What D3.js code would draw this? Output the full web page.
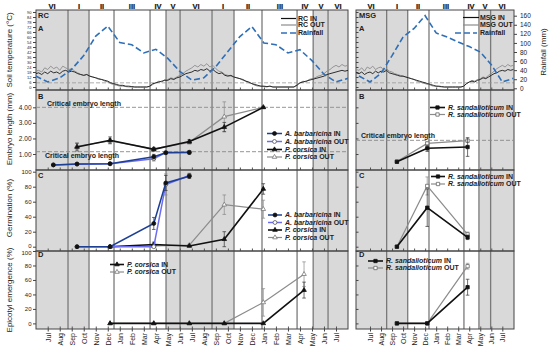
<!DOCTYPE html>
<html>
<head>
<meta charset="utf-8">
<script src="https://cdn.jsdelivr.net/npm/d3@7"></script>
<style>
  body { margin: 0; background: #fff; }
  svg { font-family: "Liberation Sans", Arial, sans-serif; }
</style>
</head>
<body>
<div id="chart"></div>
<script>
(function(){
    var WIDTH = 550, HEIGHT = 351;
    var TOP = 10, BOTTOM = 329;

    // ---- data ---------------------------------------------------------
    var monthLabelsLeft = ["Jul","Aug","Sep","Oct","Nov","Dec","Jan","Feb","Mar","Apr","May","Jun",
                           "Jul","Aug","Sep","Oct","Nov","Dec","Jan","Feb","Mar","Apr","May","Jun","Jul"];
    var monthLabelsRight = ["Jul","Aug","Sep","Oct","Nov","Dec","Jan","Feb","Mar","Apr","May","Jun","Jul"];

    var seasonsLeft = ["VI","I","II","III","IV","V","VI","I","II","III","IV","V","VI"];
    var seasonBreaksLeft = [1.69, 3.44, 5.52, 8.52, 9.85, 11.02, 13.68, 15.51, 17.84, 20.76, 22.1, 23.34];
    var seasonsRight = ["VI","I","II","III","IV","V","VI"];
    var seasonBreaksRight = [1.51, 3.42, 5.35, 8.52, 9.88, 10.94];
    var shadedSeasons = ["VI","I","V"];

    // monthly rainfall (mm), first value = June before the first July tick
    var rainLeft  = [27,14,23,42,72,115,137,101,96,78,86,66,37,18,23,48,81,114,136,100,96,78,85,61,31,14,22];
    var rainRight = [27,14,33,72,113,132,160,122,113,102,92,80,52,14,22];

    // soil temperature (°C), quarter-month readings
    var tempLeftStart = -1;
    var tempInLeft = [16,17,15,18, 16,19,17,18, 16,19,20,18, 19,18,16,15, 14,15,13,12, 11,10,9,8,
                      7,5,4,3, 2,2,1,1, 0.5,0,0,0, 0,0,1,4, 5,6,7,8, 8,10,9,11, 12,14,16,17,
                      18,20,19,21, 20,22,19,21, 18,16,17,14, 13,14,12,11, 10,9,7,6, 4,3,2,1,
                      1,0.5,1,0, 0,0,0,0, 0,0,0,2, 5,6,7,8, 9,10,11,12, 13,15,16,17, 18,19,20,19, 20];
    var tempOutLeft = [19,20,18,23, 21,25,22,24, 20,25,23,21, 22,19,17,15, 14,15,13,12, 11,9,9,7,
                       6,4,3,2, 1,1,0.5,0, 0,0,0,0, 0,0,0.5,3, 5,7,6,9, 9,11,10,12, 14,16,19,21,
                       23,26,24,27, 25,28,24,26, 22,19,18,15, 14,13,12,11, 10,8,7,5, 4,2,1,1,
                       0.5,0,1,0, 0,0,0,0, 0,0,0,3, 5,7,6,9, 10,11,13,14, 16,19,21,24, 26,24,27,25, 26];
    var tempRightStart = -1.25;
    var tempInRight = [17, 16,18,15,17, 18,16,19,17, 19,18,20,17, 16,15,14,13, 13,12,11,10, 9,8,7,6,
                       5,4,3,2, 1,1,0.5,0, 0,0,0,0, 0,0,1,4, 6,7,6,8, 9,11,10,12, 14,16,17,19, 20,19,21,20, 21];
    var tempOutRight = [21, 20,23,19,24, 22,25,21,23, 24,20,22,19, 18,16,15,14, 13,12,11,10, 9,7,6,5,
                        4,3,2,1, 1,0.5,0,0, 0,0,0,0, 0,0,1,4, 6,8,7,9, 10,12,11,14, 16,19,22,24, 26,24,27,25, 26];
    var tempThreshold = 5;
    var tempTicks = d3.range(0, 91, 6);

    // A. barbaricina (RC)
    var abMonthsB = [0.47, 2.44, 5.19, 8.83, 9.83, 11.79];
    var abLenIn   = [0.30, 0.36, 0.38, 0.83, 1.08, 1.10];
    var abLenOut  = [0.30, 0.35, 0.37, 0.70, 1.10, 1.12];
    var abLenErr  = [0.03, 0.03, 0.03, 0.15, 0.06, 0.10];
    var abMonthsC = [2.44, 5.19, 8.83, 9.83, 11.79];
    var abGermIn  = [0, 0, 31, 85, 94];
    var abGermOut = [0, 0, 0, 83, 95];
    var abGermErrIn  = [0, 0, 8, 10, 3];
    var abGermErrOut = [0, 0, 0, 14, 3];

    // P. corsica (RC)
    var pcMonthsB = [2.44, 5.19, 8.83, 11.79, 14.70, 17.95];
    var pcLenIn   = [1.45, 1.88, 1.30, 1.80, 2.73, 4.00];
    var pcLenOut  = [1.50, 1.85, 1.33, 1.75, 3.40, 4.00];
    var pcLenErrIn  = [0.25, 0.22, 0.12, 0.12, 0.30, 0.05];
    var pcLenErrOut = [0.20, 0.15, 0.10, 0.10, 0.95, 0.05];
    var pcMonthsC = [5.19, 8.83, 11.79, 14.70, 17.95];
    var pcGermIn  = [0, 3, 1, 10, 77];
    var pcGermOut = [0, 1, 2, 56, 50];
    var pcGermErrIn  = [0, 3, 1, 10, 7];
    var pcGermErrOut = [0, 1, 1, 13, 12];
    var pcMonthsD = [5.19, 8.83, 11.79, 14.70, 17.95, 21.34];
    var pcEpiIn   = [0, 0, 0, 0, 0, 46];
    var pcEpiOut  = [0, 0, 0, 0, 29, 68];
    var pcEpiErrIn  = [0, 0, 0, 0, 0, 11];
    var pcEpiErrOut = [0, 0, 0, 0, 19, 17];

    // R. sandalioticum (MSG)
    var rsMonths  = [2.44, 5.19, 8.85];
    var rsLenIn   = [0.50, 1.37, 1.45];
    var rsLenOut  = [0.52, 1.68, 1.86];
    var rsLenErrIn  = [0.03, 0.20, 0.60];
    var rsLenErrOut = [0.03, 0.10, 0.10];
    var rsGermIn  = [0, 52, 12.5];
    var rsGermOut = [0, 81, 16.5];
    var rsGermErrIn  = [0, 25, 3];
    var rsGermErrOut = [0, 12, 3];
    var rsEpiIn   = [0, 0, 50];
    var rsEpiOut  = [0, 0, 79];
    var rsEpiErrIn  = [0, 0, 11];
    var rsEpiErrOut = [0, 0, 4];

    var criticalLeft = [4.0, 1.15];
    var criticalRight = [1.88];

    // ---- scales / layout ----------------------------------------------
    var ROWS = [
        {key:'A', y0:10,  y1:90},
        {key:'B', y0:90,  y1:170},
        {key:'C', y0:170, y1:251},
        {key:'D', y0:251, y1:329}
    ];

    var yTemp = d3.scaleLinear().domain([0, 90]).range([87, 12]);
    var yRain = d3.scaleLinear().domain([0, 160]).range([88.3, 15.7]);
    var yLen  = d3.scaleLinear().domain([0, 5]).range([169.6, 91.75]);
    var yGerm = d3.scaleLinear().domain([0, 100]).range([246.7, 171.7]);
    var yEpi  = d3.scaleLinear().domain([0, 100]).range([323.4, 251]);

    var panelL = {id:'L', x0:36, x1:348, domain:[-0.975, 25.0], seasons:seasonsLeft,
                  breaks:seasonBreaksLeft, months:monthLabelsLeft, showLabels:true};
    var panelR = {id:'R', x0:356, x1:514, domain:[-1.27, 13.06], seasons:seasonsRight,
                  breaks:seasonBreaksRight, months:monthLabelsRight, showLabels:false};
    [panelL, panelR].forEach(function(p){
        p.x = d3.scaleLinear().domain(p.domain).range([p.x0, p.x1]);
    });

    var ST = {
        abIn:  {color:'#1d3f94', width:1.5, sym:d3.symbolCircle,   size:12, fill:'#111',  stroke:'#111'},
        abOut: {color:'#6c6cf2', width:1.5, sym:d3.symbolCircle,   size:12, fill:'#fff',  stroke:'#555'},
        pcIn:  {color:'#111',    width:1.6, sym:d3.symbolTriangle, size:9,  fill:'#111',  stroke:'#111'},
        pcOut: {color:'#8c8c8c', width:1.2, sym:d3.symbolTriangle, size:9,  fill:'#fff',  stroke:'#777'},
        rsIn:  {color:'#111',    width:1.6, sym:d3.symbolSquare,   size:11, fill:'#111',  stroke:'#111'},
        rsOut: {color:'#8c8c8c', width:1.2, sym:d3.symbolSquare,   size:11, fill:'#fff',  stroke:'#666'}
    };

    var svg = d3.select('#chart').append('svg')
        .attr('width', WIDTH)
        .attr('height', HEIGHT);

    // ---- panels -------------------------------------------------------
    [panelL, panelR].forEach(drawFrame);

    // temperature + rainfall
    drawClimate(panelL, tempLeftStart, tempInLeft, tempOutLeft, rainLeft);
    drawClimate(panelR, tempRightStart, tempInRight, tempOutRight, rainRight);

    // critical embryo length lines
    criticalLeft.forEach(function(v){ dashed(panelL, yLen(v)); });
    criticalRight.forEach(function(v){ dashed(panelR, yLen(v)); });
    label(47, 105.5, 'Critical embryo length', 7, 'bold');
    label(45, 158, 'Critical embryo length', 7, 'bold');
    label(361, 137.5, 'Critical embryo length', 7, 'bold');

    var gL = svg.append('g'), gR = svg.append('g');

    // left: B
    drawSeries(gL, panelL, yLen, abMonthsB, abLenOut, abLenErr, ST.abOut);
    drawSeries(gL, panelL, yLen, abMonthsB, abLenIn, abLenErr, ST.abIn);
    drawSeries(gL, panelL, yLen, pcMonthsB, pcLenOut, pcLenErrOut, ST.pcOut);
    drawSeries(gL, panelL, yLen, pcMonthsB, pcLenIn, pcLenErrIn, ST.pcIn);
    // left: C
    drawSeries(gL, panelL, yGerm, pcMonthsC, pcGermOut, pcGermErrOut, ST.pcOut);
    drawSeries(gL, panelL, yGerm, pcMonthsC, pcGermIn, pcGermErrIn, ST.pcIn);
    drawSeries(gL, panelL, yGerm, abMonthsC, abGermOut, abGermErrOut, ST.abOut);
    drawSeries(gL, panelL, yGerm, abMonthsC, abGermIn, abGermErrIn, ST.abIn);
    // left: D
    drawSeries(gL, panelL, yEpi, pcMonthsD, pcEpiOut, pcEpiErrOut, ST.pcOut);
    drawSeries(gL, panelL, yEpi, pcMonthsD, pcEpiIn, pcEpiErrIn, ST.pcIn);

    // right: B, C, D
    drawSeries(gR, panelR, yLen, rsMonths, rsLenOut, rsLenErrOut, ST.rsOut);
    drawSeries(gR, panelR, yLen, rsMonths, rsLenIn, rsLenErrIn, ST.rsIn);
    drawSeries(gR, panelR, yGerm, rsMonths, rsGermOut, rsGermErrOut, ST.rsOut);
    drawSeries(gR, panelR, yGerm, rsMonths, rsGermIn, rsGermErrIn, ST.rsIn);
    drawSeries(gR, panelR, yEpi, rsMonths, rsEpiOut, rsEpiErrOut, ST.rsOut);
    drawSeries(gR, panelR, yEpi, rsMonths, rsEpiIn, rsEpiErrIn, ST.rsIn);

    // legends
    var sp = function(name, suffix){ return {it:name, tx:suffix}; };
    legendLines(281, 296, 298, [
        {y:18.5, st:{color:'#111', width:1.2}, txt:{tx:'RC IN'}},
        {y:25,   st:{color:'#8c8c8c', width:1.2}, txt:{tx:'RC OUT'}},
        {y:33,   st:{color:'#2f6fb8', width:1.6, dash:'6,3'}, txt:{tx:'Rainfall'}}
    ]);
    legendLines(463, 479, 480, [
        {y:17.5, st:{color:'#111', width:1.2}, txt:{tx:'MSG IN'}},
        {y:25,   st:{color:'#8c8c8c', width:1.2}, txt:{tx:'MSG OUT'}}
    ]);
    legendLines(455, 477, 480, [
        {y:33, st:{color:'#2f6fb8', width:1.6, dash:'6,3'}, txt:{tx:'Rainfall'}}
    ]);
    legendLines(267, 282, 285, [
        {y:133.5, st:ST.abIn,  txt:sp('A. barbaricina', ' IN')},
        {y:141.5, st:ST.abOut, txt:sp('A. barbaricina', ' OUT')},
        {y:149.5, st:ST.pcIn,  txt:sp('P. corsica', ' IN')},
        {y:157,   st:ST.pcOut, txt:sp('P. corsica', ' OUT')}
    ]);
    legendLines(268, 282, 285, [
        {y:215,   st:ST.abIn,  txt:sp('A. barbaricina', ' IN')},
        {y:222.5, st:ST.abOut, txt:sp('A. barbaricina', ' OUT')},
        {y:230,   st:ST.pcIn,  txt:sp('P. corsica', ' IN')},
        {y:237.5, st:ST.pcOut, txt:sp('P. corsica', ' OUT')}
    ]);
    legendLines(110, 124, 127, [
        {y:264.5, st:ST.pcIn,  txt:sp('P. corsica', ' IN')},
        {y:272,   st:ST.pcOut, txt:sp('P. corsica', ' OUT')}
    ]);
    legendLines(430, 445, 448, [
        {y:107.5, st:ST.rsIn,  txt:sp('R. sandalioticum', ' IN')},
        {y:114.5, st:ST.rsOut, txt:sp('R. sandalioticum', ' OUT')}
    ]);
    legendLines(431, 445, 448, [
        {y:176.5, st:ST.rsIn,  txt:sp('R. sandalioticum', ' IN')},
        {y:184,   st:ST.rsOut, txt:sp('R. sandalioticum', ' OUT')}
    ]);
    legendLines(368, 383, 386, [
        {y:261,   st:ST.rsIn,  txt:sp('R. sandalioticum', ' IN')},
        {y:268,   st:ST.rsOut, txt:sp('R. sandalioticum', ' OUT')}
    ]);

    // panel letters
    label(38, 17.5, 'RC', 7.5, 'bold');
    label(38, 31, 'A', 7.5, 'bold');
    label(38, 99, 'B', 7.5, 'bold');
    label(38, 178, 'C', 7.5, 'bold');
    label(38, 256.5, 'D', 7.5, 'bold');
    label(359, 17.5, 'MSG', 7.5, 'bold');
    label(359, 31, 'A', 7.5, 'bold');
    label(359, 99, 'B', 7.5, 'bold');
    label(359, 178, 'C', 7.5, 'bold');
    label(359, 256.5, 'D', 7.5, 'bold');

    // axis titles
    vtitle(9, 50, 'Soil temperature (°C)');
    vtitle(9, 129, 'Embryo length (mm)');
    vtitle(9, 208, 'Germination (%)');
    vtitle(9, 290, 'Epicotyl emergence (%)');
    vtitle(543, 52, 'Rainfall (mm)');


    // FUNCTIONS ----------------------------------------------------------
    function drawFrame(p){
        var g = svg.append('g').attr('class', 'frame-' + p.id);

        // season bands
        var edges = [p.domain[0]].concat(p.breaks, [p.domain[1]]);
        var bands = p.seasons.map(function(s, i){ return {name:s, a:edges[i], b:edges[i + 1]}; });

        g.selectAll('rect.band').data(bands).enter().append('rect')
            .attr('class', 'band')
            .attr('x', function(d){ return p.x(d.a); })
            .attr('width', function(d){ return p.x(d.b) - p.x(d.a); })
            .attr('y', TOP)
            .attr('height', BOTTOM - TOP)
            .attr('fill', function(d){ return shadedSeasons.indexOf(d.name) >= 0 ? '#d9d9d9' : '#fff'; });

        // stroked text is drawn as a path: keeps thin stems grey, not colour-fringed
        g.selectAll('text.season').data(bands).enter().append('text')
            .attr('class', 'season')
            .attr('x', function(d){ return Math.round((p.x(d.a) + p.x(d.b)) / 2); })
            .attr('y', 8.5)
            .attr('text-anchor', 'middle')
            .style('font-size', '7.5px')
            .style('font-weight', 'bold')
            .attr('fill', '#111')
            .attr('stroke', '#111')
            .attr('stroke-width', 0.2)
            .text(function(d){ return d.name; });

        g.selectAll('line.brk').data(p.breaks).enter().append('line')
            .attr('x1', function(d){ return p.x(d); })
            .attr('x2', function(d){ return p.x(d); })
            .attr('y1', TOP).attr('y2', BOTTOM)
            .attr('stroke', '#7a7a7a')
            .attr('stroke-width', 1.3);

        // temperature threshold
        g.append('line')
            .attr('x1', p.x0).attr('x2', p.x1)
            .attr('y1', yTemp(tempThreshold)).attr('y2', yTemp(tempThreshold))
            .attr('stroke', '#999').attr('stroke-width', 0.8)
            .attr('stroke-dasharray', '4,2');

        // month ticks inside each row
        var ticks = d3.range(0, p.months.length);
        ROWS.forEach(function(r){
            g.append('g')
                .attr('transform', 'translate(0,' + r.y1 + ')')
                .call(d3.axisBottom(p.x).tickValues(ticks).tickSize(-2.5).tickFormat(''))
                .call(function(a){ a.select('.domain').remove(); a.selectAll('line').attr('stroke', '#555'); });
        });

        // bottom axis labels
        var ax = g.append('g')
            .attr('transform', 'translate(0,' + BOTTOM + ')')
            .call(d3.axisBottom(p.x).tickValues(ticks).tickSize(2.5)
                  .tickFormat(function(i){ return p.months[i]; }));
        ax.select('.domain').remove();
        ax.selectAll('line').attr('stroke', '#444');
        ax.selectAll('text')
            .attr('transform', 'rotate(-90)')
            .attr('x', -4).attr('y', 0).attr('dy', '0.35em')
            .style('text-anchor', 'end')
            .style('font-size', '7px')
            .attr('fill', '#222');

        // y axes (nudge = shift of the end labels so neighbouring rows do not collide)
        var yAxes = [
            {s:yTemp, vals:tempTicks, fmt:d3.format('d'), fs:'4px', nudge:{}},
            {s:yLen,  vals:[1, 2, 3, 4], fmt:d3.format('.2f'), fs:'6.5px', nudge:{}},
            {s:yGerm, vals:d3.range(0, 101, 20), fmt:d3.format('d'), fs:'6px', nudge:{0:-1.5}},
            {s:yEpi,  vals:d3.range(0, 101, 20), fmt:d3.format('d'), fs:'6px', nudge:{100:1.8}}
        ];
        yAxes.forEach(function(a){
            var axis = d3.axisLeft(a.s).tickValues(a.vals).tickSize(p.showLabels ? 3 : -2.5).tickPadding(1.5)
                .tickFormat(p.showLabels ? a.fmt : '');
            var ag = g.append('g').attr('transform', 'translate(' + p.x0 + ',0)').call(axis);
            ag.select('.domain').remove();
            ag.selectAll('line').attr('stroke', '#444');
            ag.selectAll('text').style('font-size', a.fs).attr('fill', '#222')
                .attr('y', function(d){ return a.nudge[d] || 0; });
        });

        if(!p.showLabels){
            var rg = g.append('g').attr('transform', 'translate(' + p.x1 + ',0)')
                .call(d3.axisRight(yRain).tickValues(d3.range(0, 161, 20)).tickSize(3).tickPadding(3));
            rg.select('.domain').remove();
            rg.selectAll('line').attr('stroke', '#444');
            rg.selectAll('text').style('font-size', '6.5px').attr('fill', '#222');
        }

        // row borders
        g.selectAll('rect.row').data(ROWS).enter().append('rect')
            .attr('class', 'row')
            .attr('x', p.x0).attr('width', p.x1 - p.x0)
            .attr('y', function(d){ return d.y0; })
            .attr('height', function(d){ return d.y1 - d.y0; })
            .attr('fill', 'none')
            .attr('stroke', '#444')
            .attr('stroke-width', 1);

        // clip for the climate traces
        svg.append('clipPath').attr('id', 'clip-' + p.id)
            .append('rect')
            .attr('x', p.x0).attr('y', ROWS[0].y0)
            .attr('width', p.x1 - p.x0).attr('height', ROWS[0].y1 - ROWS[0].y0);
    }

    function drawClimate(p, t0, tin, tout, rain){
        var g = svg.append('g').attr('clip-path', 'url(#clip-' + p.id + ')');

        var tLine = d3.line()
            .x(function(d, i){ return p.x(t0 + i * 0.25); })
            .y(function(d){ return yTemp(d); });

        g.append('path').datum(tout)
            .attr('d', tLine)
            .attr('fill', 'none').attr('stroke', '#8c8c8c').attr('stroke-width', 0.9);
        g.append('path').datum(tin)
            .attr('d', tLine)
            .attr('fill', 'none').attr('stroke', '#1a1a1a').attr('stroke-width', 0.9);

        var rLine = d3.line()
            .x(function(d, i){ return p.x(i - 1); })
            .y(function(d){ return yRain(d); });
        g.append('path').datum(rain)
            .attr('d', rLine)
            .attr('fill', 'none')
            .attr('stroke', '#2f6fb8')
            .attr('stroke-width', 1.6)
            .attr('stroke-dasharray', '6,3');
    }

    function drawSeries(g, p, y, months, vals, errs, st){
        var pts = months.map(function(m, i){ return {m:m, v:vals[i], e:errs ? errs[i] : 0}; });
        var s = g.append('g');

        var eb = s.selectAll('g.err').data(pts.filter(function(d){ return d.e > 0; }))
            .enter().append('g')
            .attr('stroke', st.stroke === '#111' ? '#333' : '#888')
            .attr('stroke-width', 0.7);
        eb.append('line')
            .attr('x1', function(d){ return p.x(d.m); }).attr('x2', function(d){ return p.x(d.m); })
            .attr('y1', function(d){ return y(d.v + d.e); })
            .attr('y2', function(d){ return y(Math.max(0, d.v - d.e)); });
        [1, -1].forEach(function(sgn){
            eb.append('line')
                .attr('x1', function(d){ return p.x(d.m) - 1.8; })
                .attr('x2', function(d){ return p.x(d.m) + 1.8; })
                .attr('y1', function(d){ return y(Math.max(0, d.v + sgn * d.e)); })
                .attr('y2', function(d){ return y(Math.max(0, d.v + sgn * d.e)); });
        });

        s.append('path').datum(pts)
            .attr('d', d3.line().x(function(d){ return p.x(d.m); }).y(function(d){ return y(d.v); }))
            .attr('fill', 'none')
            .attr('stroke', st.color)
            .attr('stroke-width', st.width);

        s.selectAll('path.mk').data(pts).enter().append('path')
            .attr('class', 'mk')
            .attr('d', d3.symbol().type(st.sym).size(st.size))
            .attr('transform', function(d){ return 'translate(' + p.x(d.m) + ',' + y(d.v) + ')'; })
            .attr('fill', st.fill)
            .attr('stroke', st.stroke)
            .attr('stroke-width', 0.8);
    }

    function dashed(p, yy){
        svg.append('line')
            .attr('x1', p.x0).attr('x2', p.x1)
            .attr('y1', yy).attr('y2', yy)
            .attr('stroke', '#8a8a8a')
            .attr('stroke-width', 0.9)
            .attr('stroke-dasharray', '4,2');
    }

    function legendLines(xa, xb, xt, items){
        var g = svg.append('g');
        items.forEach(function(it){
            g.append('line')
                .attr('x1', xa).attr('x2', xb)
                .attr('y1', it.y).attr('y2', it.y)
                .attr('stroke', it.st.color)
                .attr('stroke-width', it.st.width)
                .attr('stroke-dasharray', it.st.dash || null);
            if(it.st.sym){
                g.append('path')
                    .attr('d', d3.symbol().type(it.st.sym).size(it.st.size))
                    .attr('transform', 'translate(' + ((xa + xb) / 2) + ',' + it.y + ')')
                    .attr('fill', it.st.fill)
                    .attr('stroke', it.st.stroke)
                    .attr('stroke-width', 0.8);
            }
            var t = g.append('text')
                .attr('x', xt).attr('y', it.y)
                .attr('dy', '0.35em')
                .style('font-size', '7px')
                .style('font-weight', 'bold')
                .attr('fill', '#222');
            if(it.txt.it) t.append('tspan').style('font-style', 'italic').text(it.txt.it);
            t.append('tspan').text(it.txt.tx);
        });
    }

    function label(x, y, txt, size, weight){
        svg.append('text')
            .attr('x', x).attr('y', y)
            .style('font-size', size + 'px')
            .style('font-weight', weight || 'normal')
            .attr('fill', '#222')
            .text(txt);
    }

    function vtitle(x, y, txt){
        svg.append('text')
            .attr('transform', 'translate(' + x + ',' + y + ') rotate(-90)')
            .attr('text-anchor', 'middle')
            .attr('dy', '0.35em')
            .style('font-size', '8px')
            .attr('fill', '#222')
            .text(txt);
    }
})();
</script>
</body>
</html>
